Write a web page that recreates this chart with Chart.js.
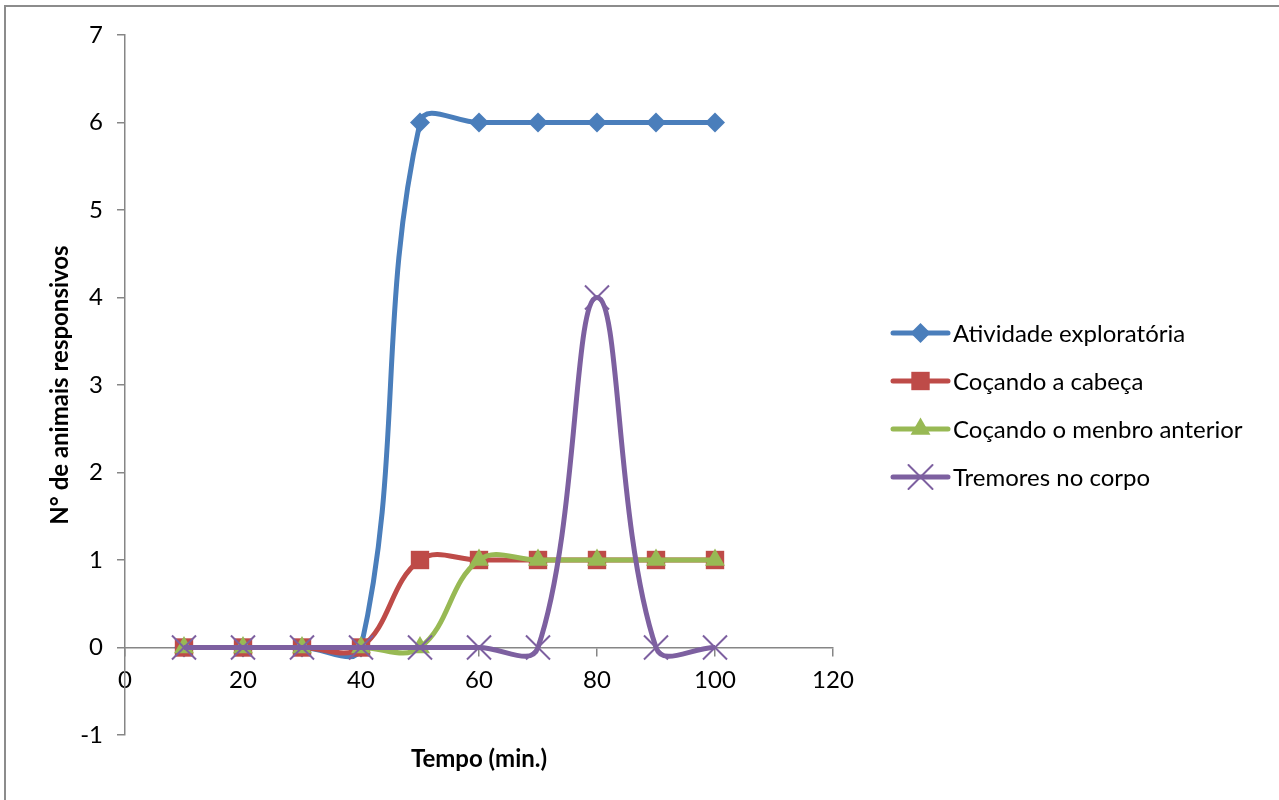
<!DOCTYPE html>
<html>
<head>
<meta charset="utf-8">
<script src="https://cdn.jsdelivr.net/npm/chart.js@4.4.0/dist/chart.umd.min.js"></script>
<style>
  body { margin: 0; overflow: hidden; background: #fff; }
  #frame { position: absolute; left: 4px; top: 5px; width: 1300px; height: 820px; border: 2px solid #8c8c8c; box-sizing: border-box; }
  #myChart { position: absolute; left: 0; top: 0; }
</style>
</head>
<body>
<div id="frame"></div>
<canvas id="myChart" width="1279" height="800"></canvas>
<script>
// Data
const tempo = [10, 20, 30, 40, 50, 60, 70, 80, 90, 100];
const atividade = [0, 0, 0, 0, 6, 6, 6, 6, 6, 6];
const cocandoCabeca = [0, 0, 0, 0, 1, 1, 1, 1, 1, 1];
const cocandoMembro = [0, 0, 0, 0, 0, 1, 1, 1, 1, 1];
const tremores = [0, 0, 0, 0, 0, 0, 0, 4, 0, 0];
const seriesNames = ['Atividade exploratória', 'Coçando a cabeça', 'Coçando o menbro anterior', 'Tremores no corpo'];

const FONT = 'Lato, "Open Sans", sans-serif';
const FSIZE = 24;

function pts(values) {
    return tempo.map((t, i) => ({ x: t, y: values[i] }));
}

// legend drawn by hand, to the right of the plot
const sideLegend = {
    id: 'sideLegend',
    afterDraw(chart) {
        const ctx = chart.ctx;
        const x0 = 893, x1 = 948, y0 = 333, gap = 48;
        chart.data.datasets.forEach((ds, i) => {
            const y = y0 + i * gap;
            ctx.save();
            ctx.strokeStyle = ds.borderColor;
            ctx.fillStyle = ds.borderColor;
            ctx.lineWidth = ds.borderWidth;
            ctx.lineCap = 'round';
            ctx.beginPath();
            ctx.moveTo(x0, y);
            ctx.lineTo(x1, y);
            ctx.stroke();
            ctx.lineWidth = ds.pointBorderWidth;
            Chart.helpers.drawPoint(ctx, {
                pointStyle: ds.pointStyle,
                radius: ds.pointRadius,
                borderWidth: ds.pointBorderWidth
            }, (x0 + x1) / 2, y);
            ctx.fillStyle = '#000';
            ctx.font = FSIZE + 'px ' + FONT;
            ctx.textBaseline = 'middle';
            ctx.fillText(seriesNames[i], 953, y + 1);
            ctx.restore();
        });
    }
};

document.addEventListener('DOMContentLoaded', function () {
    const ctx = document.getElementById('myChart').getContext('2d');
    const mk = (label, values, color, style, radius, order) => ({
        label: label,
        data: pts(values),
        borderColor: color,
        backgroundColor: color,
        borderWidth: 5,
        pointStyle: style,
        pointRadius: radius,
        pointHoverRadius: radius,
        pointBorderWidth: style === 'crossRot' ? 2 : 0,
        pointBackgroundColor: color,
        pointBorderColor: color,
        tension: 0.4,
        order: order
    });
    const myChart = new Chart(ctx, {
        type: 'line',
        data: {
            datasets: [
                mk(seriesNames[0], atividade, '#4a7ebb', 'rectRot', 10, 3),
                mk(seriesNames[1], cocandoCabeca, '#be4b48', 'rect', 13, 2),
                mk(seriesNames[2], cocandoMembro, '#98b954', 'triangle', 11.5, 1),
                mk(seriesNames[3], tremores, '#7d60a0', 'crossRot', 17, 0)
            ]
        },
        options: {
            responsive: false,
            animation: false,
            layout: {
                padding: { left: 0, top: 35, right: 446, bottom: 65 }
            },
            scales: {
                x: {
                    type: 'linear',
                    position: { y: 0 },
                    min: 0,
                    max: 120,
                    ticks: { stepSize: 20, padding: 10, color: '#000', font: { family: FONT, size: FSIZE } },
                    grid: { drawOnChartArea: false, tickLength: 8, color: '#868686', lineWidth: 1.5 },
                    border: { color: '#868686', width: 1.5 },
                    title: { display: true, text: 'Tempo (min.)', color: '#000', padding: { top: 41 }, font: { family: FONT, size: FSIZE, weight: 'bold' } }
                },
                y: {
                    position: 'left',
                    min: -1,
                    max: 7,
                    ticks: { stepSize: 1, padding: 14, color: '#000', font: { family: FONT, size: FSIZE } },
                    grid: { drawOnChartArea: false, tickLength: 8, color: '#868686', lineWidth: 1.5 },
                    border: { color: '#868686', width: 1.5 },
                    title: { display: true, text: 'N° de animais responsivos', color: '#000', padding: { top: 46 }, font: { family: FONT, size: FSIZE, weight: 'bold' } },
                    afterFit(scale) { scale.width = 125; }
                }
            },
            plugins: {
                legend: { display: false },
                tooltip: { enabled: false }
            }
        },
        plugins: [sideLegend]
    });
});
</script>
</body>
</html>
